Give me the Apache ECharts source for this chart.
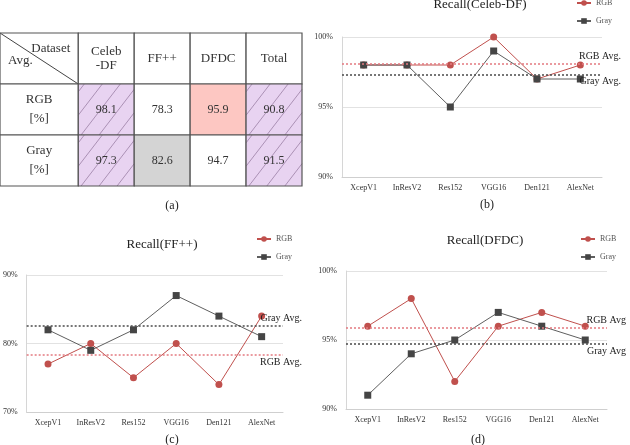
<!DOCTYPE html>
<html>
<head>
<meta charset="utf-8">
<script src="https://cdn.jsdelivr.net/npm/echarts@6/dist/echarts.min.js"></script>
<style>
  html, body { margin: 0; padding: 0; background: #fff; }
  #main { width: 630px; height: 445px; }
</style>
</head>
<body>
<div id="main"></div>
<script>
// (a) table data
const datasets = ['Celeb\n-DF', 'FF++', 'DFDC', 'Total'];
const rowNames = ['RGB\n[%]', 'Gray\n[%]'];
const rgbAvg = [98.1, 78.3, 95.9, 90.8];
const grayAvg = [97.3, 82.6, 94.7, 91.5];

// (b)(c)(d) recall per model
const models = ['XcepV1', 'InResV2', 'Res152', 'VGG16', 'Den121', 'AlexNet'];
const celebRGB = [98, 98, 98, 100, 97, 98];
const celebGray = [98, 98, 95, 99, 97, 97];
const ffRGB = [77, 80, 75, 80, 74, 84];
const ffGray = [82, 79, 82, 87, 84, 81];
const dfdcRGB = [96, 98, 92, 96, 97, 96];
const dfdcGray = [91, 94, 95, 97, 96, 95];

const SERIF = 'Liberation Serif';
const RED = '#c0504d';

// cell look of the table body (row x dataset)
const cellFill = [
  ['hatch', 'none', 'pink', 'hatch'],
  ['hatch', 'gray', 'none', 'hatch']
];
const fillColor = { hatch: '#e8d3f1', pink: '#fdc7c2', gray: '#d4d4d4', none: '#fff' };
const HEAD_W = 1.4; // first column is wider

// build table cells
const cells = [{ c: 0, r: 0, corner: true }];
datasets.forEach((d, i) => cells.push({ c: i + 1, r: 0, text: d, lh: 14, size: 13 }));
rowNames.forEach((n, j) => cells.push({ c: 0, r: j + 1, text: n, lh: 19, size: 13 }));
[rgbAvg, grayAvg].forEach((vals, j) => {
  vals.forEach((v, i) => cells.push({ c: i + 1, r: j + 1, text: v.toFixed(1), size: 12, lh: 14, fill: cellFill[j][i] }));
});

function hatchLines(x0, y0, x1, y1) {
  const k = 1.3, s = 18, out = [];
  const uMin = x0 + y0 / k, uMax = x1 + y1 / k;
  for (let u = uMin + 6; u < uMax; u += s) {
    const ya = Math.max(y0, k * (u - x1));
    const yb = Math.min(y1, k * (u - x0));
    if (ya < yb) {
      out.push({
        type: 'line',
        shape: { x1: u - ya / k, y1: ya, x2: u - yb / k, y2: yb },
        style: { stroke: '#9a7fa4', lineWidth: 0.8 }
      });
    }
  }
  return out;
}

function renderCell(params, api) {
  const cell = cells[params.dataIndex];
  const x0 = cell.c === 0 ? 0 : HEAD_W + cell.c - 1;
  const x1 = cell.c === 0 ? HEAD_W : x0 + 1;
  const a = api.coord([x0, cell.r]);
  const b = api.coord([x1, cell.r + 1]);
  const w = b[0] - a[0], h = b[1] - a[1];
  const kids = [{
    type: 'rect', shape: { x: a[0], y: a[1], width: w, height: h },
    style: { fill: fillColor[cell.fill || 'none'] }
  }];
  if (cell.fill === 'hatch') kids.push(...hatchLines(a[0], a[1], b[0], b[1]));
  if (cell.corner) {
    kids.push({ type: 'line', shape: { x1: a[0], y1: a[1], x2: b[0], y2: b[1] }, style: { stroke: '#444', lineWidth: 1 } });
    kids.push({ type: 'text', style: { text: 'Dataset', x: b[0] - 8, y: a[1] + 16, align: 'right', verticalAlign: 'middle', font: '13px ' + SERIF, fill: '#333' } });
    kids.push({ type: 'text', style: { text: 'Avg.', x: a[0] + 8, y: b[1] - 23, align: 'left', verticalAlign: 'middle', font: '13px ' + SERIF, fill: '#333' } });
  } else {
    kids.push({
      type: 'text',
      style: {
        text: cell.text, x: (a[0] + b[0]) / 2, y: (a[1] + b[1]) / 2,
        align: 'center', verticalAlign: 'middle', lineHeight: cell.lh,
        font: cell.size + 'px ' + SERIF, fill: '#333'
      }
    });
  }
  kids.push({
    type: 'rect', shape: { x: a[0], y: a[1], width: w, height: h },
    style: { fill: 'none', stroke: '#555', lineWidth: 1.2 }
  });
  return { type: 'group', children: kids };
}

function lineSeries(name, data, idx, avg, label, pos) {
  const isRGB = name === 'RGB';
  return {
    name: name, type: 'line', xAxisIndex: idx, yAxisIndex: idx, data: data,
    symbol: isRGB ? 'circle' : 'rect', symbolSize: 7,
    lineStyle: { color: isRGB ? RED : '#5f5f5f', width: 1 },
    itemStyle: { color: isRGB ? RED : '#454545' },
    markLine: {
      silent: true, symbol: 'none',
      lineStyle: { color: isRGB ? '#e47a80' : '#4a4a4a', type: [2, 2], width: 1.5 },
      label: {
        position: pos, distance: [-19, 2], formatter: label,
        fontFamily: SERIF, fontSize: 10, color: '#222'
      },
      data: [{ yAxis: avg }]
    }
  };
}

function xAx(i) {
  return {
    type: 'category', gridIndex: i, data: models,
    axisLine: { lineStyle: { color: '#cfcfcf' } },
    axisTick: { length: 5, lineStyle: { color: '#cfcfcf' } },
    axisLabel: { fontFamily: SERIF, fontSize: 8, color: '#333', margin: 7 }
  };
}
function yAx(i, min, max, interval) {
  return {
    type: 'value', gridIndex: i, min: min, max: max, interval: interval,
    axisLine: { show: true, lineStyle: { color: '#d6d6d6' } },
    axisTick: { show: false },
    splitLine: { lineStyle: { color: '#e2e2e2' } },
    axisLabel: { formatter: '{value}%', fontFamily: SERIF, fontSize: 8, color: '#333', margin: 9 }
  };
}
function legendAt(left, top) {
  return {
    data: ['RGB', 'Gray'], left: left, top: top, orient: 'vertical',
    itemWidth: 14, itemHeight: 7, itemGap: 10,
    textStyle: { fontFamily: SERIF, fontSize: 8, color: '#555' }
  };
}
function titleAt(text, x, y, size) {
  return { text: text, left: x, top: y, textAlign: 'center', textStyle: { fontFamily: SERIF, fontSize: size, fontWeight: 'normal', color: '#222' } };
}

const chart = echarts.init(document.getElementById('main'));
chart.setOption({
  animation: false,
  backgroundColor: '#fff',
  title: [
    titleAt('Recall(Celeb-DF)', 475, -7, 13),
    titleAt('Recall(FF++)', 157, 233, 13),
    titleAt('Recall(DFDC)', 480, 229, 13),
    titleAt('(a)', 167, 195, 12),
    titleAt('(b)', 482, 194, 12),
    titleAt('(c)', 167, 429, 12),
    titleAt('(d)', 473, 429, 12)
  ],
  legend: [legendAt(571, -6), legendAt(251, 230), legendAt(575, 230)],
  grid: [
    { left: 342, top: 37, width: 260, height: 140 },
    { left: 20, top: 275, width: 263, height: 137 },
    { left: 346, top: 271, width: 261, height: 138 },
    { left: 0, top: 33, width: 302, height: 153 }
  ],
  xAxis: [xAx(0), xAx(1), xAx(2),
    { type: 'value', gridIndex: 3, min: 0, max: HEAD_W + datasets.length, show: false }],
  yAxis: [yAx(0, 90, 100, 5), yAx(1, 70, 90, 10), yAx(2, 90, 100, 5),
    { type: 'value', gridIndex: 3, min: 0, max: rowNames.length + 1, inverse: true, show: false }],
  series: [
    lineSeries('RGB', celebRGB, 0, rgbAvg[0], 'RGB Avg.', 'insideEndTop'),
    lineSeries('Gray', celebGray, 0, grayAvg[0], 'Gray Avg.', 'insideEndBottom'),
    lineSeries('RGB', ffRGB, 1, rgbAvg[1], 'RGB Avg.', 'insideEndBottom'),
    lineSeries('Gray', ffGray, 1, grayAvg[1], 'Gray Avg.', 'insideEndTop'),
    lineSeries('RGB', dfdcRGB, 2, rgbAvg[2], 'RGB Avg', 'insideEndTop'),
    lineSeries('Gray', dfdcGray, 2, grayAvg[2], 'Gray Avg', 'insideEndBottom'),
    {
      type: 'custom', xAxisIndex: 3, yAxisIndex: 3, clip: false, silent: true,
      renderItem: renderCell,
      data: cells.map(c => [c.c, c.r])
    }
  ]
});
</script>
</body>
</html>
